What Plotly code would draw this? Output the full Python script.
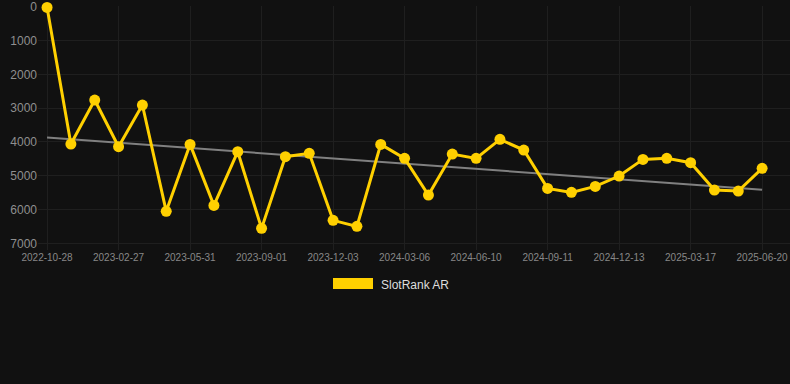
import numpy as np
import plotly.graph_objects as go

dates = [
    "2022-10-28", "2022-12-08", "2023-01-17", "2023-02-27", "2023-03-30", "2023-04-30",
    "2023-05-31", "2023-07-01", "2023-08-01", "2023-09-01", "2023-10-02", "2023-11-02",
    "2023-12-03", "2024-01-03", "2024-02-04", "2024-03-06", "2024-04-07", "2024-05-09",
    "2024-06-10", "2024-07-11", "2024-08-11", "2024-09-11", "2024-10-12", "2024-11-12",
    "2024-12-13", "2025-01-13", "2025-02-14", "2025-03-17", "2025-04-17", "2025-05-19",
    "2025-06-20",
]
rank = [
    20, 4063, 2761, 4142, 2909, 6055, 4073, 5878, 4290, 6558, 4438, 4339, 6321, 6499,
    4073, 4487, 5572, 4359, 4487, 3925, 4241, 5375, 5493, 5316, 5010, 4517, 4487, 4615,
    5424, 5454, 4783,
]
tick_labels = dates[::3]
y_ticks = [0, 1000, 2000, 3000, 4000, 5000, 6000, 7000]
series_name = "SlotRank AR"

GOLD = "#ffd000"
BG = "#111111"
GRID = "#1f1f1f"

idx = np.arange(len(rank))
slope, intercept = np.polyfit(idx, rank, 1)
trend = slope * idx + intercept

fig = go.Figure()
fig.add_trace(go.Scatter(
    x=dates, y=trend, mode="lines",
    line=dict(color="#808080", width=2),
    showlegend=False, hoverinfo="skip",
))
fig.add_trace(go.Scatter(
    x=dates, y=rank, mode="lines+markers", name=series_name,
    line=dict(color=GOLD, width=3),
    marker=dict(color=GOLD, size=11),
    showlegend=False, cliponaxis=False,
))

L, T, PW, PH = 38, 6, 752, 244
def px_x(p):
    return (p - L) / PW
def px_y(p):
    return (PH - (p - T)) / PH

fig.add_shape(type="rect", xref="paper", yref="paper",
              x0=px_x(333), x1=px_x(373), y0=px_y(289), y1=px_y(278),
              fillcolor=GOLD, line=dict(width=0))
fig.add_annotation(xref="paper", yref="paper", x=px_x(379), y=px_y(284.5),
                   text=series_name, showarrow=False, xanchor="left", yanchor="middle",
                   font=dict(size=12, color="#dddddd", family="Liberation Sans, Arial, sans-serif"))

fig.update_layout(
    width=790, height=384,
    margin=dict(l=L, r=790 - L - PW, t=T, b=384 - T - PH),
    paper_bgcolor=BG, plot_bgcolor=BG,
    font=dict(family="Liberation Sans, Arial, sans-serif", color="#8a8a8a"),
    showlegend=False,
    xaxis=dict(
        type="category", tickmode="array", tickvals=tick_labels, ticktext=tick_labels,
        range=[-0.38, len(dates) - 1 + 1.17], ticklabeloverflow="allow",
        showgrid=True, gridcolor=GRID, gridwidth=1, zeroline=False,
        showline=False, ticks="", tickfont=dict(size=10, color="#888888"),
    ),
    yaxis=dict(
        range=[7198, -21], tickmode="array", tickvals=y_ticks,
        ticktext=[str(v) for v in y_ticks], ticklabeloverflow="allow",
        showgrid=True, gridcolor=GRID, gridwidth=1, zeroline=False,
        showline=False, ticks="", tickfont=dict(size=12, color="#8f8f8f"),
    ),
)

fig.write_html(
    "out.html",
    config={"displayModeBar": False},
    post_script="document.body.style.margin='0';document.body.style.background='#111111';",
)
